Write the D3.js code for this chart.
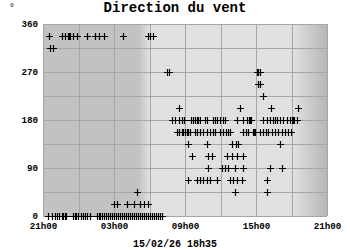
<!DOCTYPE html>
<html><head><meta charset="utf-8">
<script src="https://cdn.jsdelivr.net/npm/d3@7"></script>
<style>
html,body{margin:0;padding:0;background:#fff;}
text{font-family:"Liberation Mono","DejaVu Sans Mono",monospace;font-weight:bold;fill:#000;}
</style></head>
<body>
<svg id="c" width="350" height="250"></svg>
<script>
// ---- data ----
const title = "Direction du vent";
const unitLabel = "°";
const stampLabel = "15/02/26 18h35";
const startTime = "2026-02-14 21:00";
const endTime = "2026-02-15 21:00";
const dawnStart = "05:05", dawnEnd = "06:00";
const duskStart = "18:10", duskEnd = "20:59";
const yTicks = [0, 90, 180, 270, 360];
const yGrid = [0, 45, 90, 135, 180, 225, 270, 315, 360];
const xTickLabels = ["21h00", "03h00", "09h00", "15h00", "21h00"];
const xGridTimes = ["21:00", "00:00", "03:00", "06:00", "09:00", "12:00", "15:00", "18:00", "20:59"];

const sectors = [0, 22.5, 45, 67.5, 90, 112.5, 135, 157.5, 180, 202.5, 225, 247.5, 270, 315, 337.5];
const t0 = ["21:25","21:46","22:01","22:11","22:21","22:36","22:41","22:52","22:57",
  "23:32","23:42","23:47","23:57","00:13","00:23","00:33","00:43","00:58",
  "01:34","01:44","01:49","01:59","02:09","02:19","02:30","02:40","02:50","03:00","03:10","03:20",
  "03:30","03:41","03:51","04:01","04:11","04:21","04:31","04:41","04:52","05:02","05:12","05:22",
  "05:32","05:42","05:52","06:03","06:13","06:23","06:33","06:43","06:53","07:03"];
const t22 = ["03:00","03:17","04:04","04:43","05:12","05:34","05:54"];
const t45 = ["04:58","13:13","15:54"];
const t67 = ["09:17","09:59","10:16","10:33","10:50","11:07","11:41","12:48","13:05","13:22","13:47","15:54"];
const t90 = ["10:58","12:06","12:23","12:40","13:13","13:56","16:11","17:10"];
const t112 = ["09:34","10:58","11:15","12:31","12:57","13:22","13:56"];
const t135 = ["09:17","10:50","12:57","13:19","13:30","17:02"];
const t157 = ["08:18","08:31","08:43","08:51","09:00","09:09","09:17","09:25","09:51","10:02","10:16",
  "10:33","10:50","11:07","11:20","11:32","11:57","12:14","12:28","12:40","12:48","13:56","14:09",
  "14:21","14:45","14:50","14:55","15:20","15:37","15:51","16:02","16:20","16:36","16:53","17:10",
  "17:27","17:44","17:56"];
const t180 = ["07:56","08:09","08:31","08:45","08:56","09:29","09:42","09:51","09:59","10:07","10:16",
  "10:41","10:50","11:20","11:32","11:41","11:57","12:11","12:23","13:22","13:56","14:13","14:25",
  "14:30","14:35","15:37","15:54","16:11","16:25","16:36","16:45","17:02","17:18","17:36","17:52",
  "18:03","18:09","18:15","18:26"];
const t202 = ["08:30","13:41","16:16","18:33"];
const t225 = ["15:37"];
const t247 = ["15:08","15:18"];
const t270 = ["07:29","07:39","15:03","15:12","15:20"];
const t315 = ["21:33","21:52"];
const t337 = ["21:30","22:35","22:52","23:07","23:13","23:19","23:34","23:51","00:42","01:24",
  "01:45","02:09","03:47","05:52","06:05","06:18"];
const sectorTimes = [t0,t22,t45,t67,t90,t112,t135,t157,t180,t202,t225,t247,t270,t315,t337];

// ---- build ----
const parseFull = d3.timeParse("%Y-%m-%d %H:%M");
const t0Date = parseFull(startTime), t1Date = parseFull(endTime);
function toDate(hm) {
  const h = +hm.split(":")[0];
  const day = h >= 21 ? "2026-02-14" : "2026-02-15";
  return parseFull(day + " " + hm);
}
const points = [];
sectors.forEach((s, i) => sectorTimes[i].forEach(t => points.push({t: toDate(t), d: s})));

const svg = d3.select("#c");
const L = 43, R = 327, T = 24, B = 216;
const x = d3.scaleTime().domain([t0Date, t1Date]).range([L, R]);
const y = d3.scaleLinear().domain([0, 360]).range([B, T]);

// background shading (night/day)
const defs = svg.append("defs");
const g = defs.append("linearGradient").attr("id", "bg")
  .attr("gradientUnits", "userSpaceOnUse").attr("x1", L).attr("x2", R).attr("y1", 0).attr("y2", 0);
const dark = "#c2c2c2", light = "#e0e0e0", darkR = "#b6b6b6";
[[x(t0Date), dark], [x(toDate(dawnStart)), dark], [x(toDate(dawnEnd)), light],
 [x(toDate(duskStart)), light], [x(toDate(duskEnd)), darkR]]
  .forEach(([px, c]) => g.append("stop").attr("offset", (px - L) / (R - L)).attr("stop-color", c));
svg.append("rect").attr("x", L).attr("y", T).attr("width", R - L).attr("height", B - T).attr("fill", "url(#bg)");

// grid
const gridX = xGridTimes.map(toDate);
svg.append("g").selectAll("line").data(gridX).join("line")
  .attr("x1", d => Math.round(x(d)) + 0.5).attr("x2", d => Math.round(x(d)) + 0.5)
  .attr("y1", T).attr("y2", B).attr("stroke", "#a6a6a6").attr("stroke-width", 1);
svg.append("g").selectAll("line").data(yGrid).join("line")
  .attr("y1", d => Math.round(y(d)) + 0.5).attr("y2", d => Math.round(y(d)) + 0.5)
  .attr("x1", L).attr("x2", R).attr("stroke", "#a6a6a6").attr("stroke-width", 1);

// axes (labels only)
const yAxis = d3.axisLeft(y).tickValues(yTicks).tickSize(0).tickPadding(5);
const ya = svg.append("g").attr("transform", `translate(${L},0)`).call(yAxis);
ya.select(".domain").remove();
ya.selectAll("text").attr("font-size", 9.2).attr("dy", "0.28em").attr("font-family", null)
  .style("font-family", '"Liberation Mono",monospace').style("font-weight", "bold");

const xLabelDates = xTickLabels.map((lab, i) => i === xTickLabels.length - 1 ? t1Date : toDate(lab.replace("h", ":")));
const xAxis = d3.axisBottom(x).tickValues(xLabelDates).tickSize(0).tickPadding(6)
  .tickFormat((d, i) => xTickLabels[i]);
const xa = svg.append("g").attr("transform", `translate(0,${B})`).call(xAxis);
xa.select(".domain").remove();
xa.selectAll("text").attr("font-size", 9.2).attr("dy", "0.75em").attr("font-family", null)
  .style("font-family", '"Liberation Mono",monospace').style("font-weight", "bold");

// markers
svg.append("g").selectAll("path").data(points).join("path")
  .attr("transform", d => `translate(${Math.round(x(d.t)) + 0.5},${Math.round(y(d.d)) + 0.5})`)
  .attr("d", "M-3.5,0H3.5M0,-3.5V3.5")
  .attr("stroke", "#000").attr("stroke-width", 1.2).attr("fill", "none");

// texts
svg.append("text").attr("x", 175).attr("y", 12).attr("text-anchor", "middle")
  .attr("font-size", 14).text(title);
svg.append("text").attr("x", 9).attr("y", 11).attr("font-size", 10).style("font-weight", "normal").text(unitLabel);
svg.append("text").attr("x", 175).attr("y", 247).attr("text-anchor", "middle")
  .attr("font-size", 10).text(stampLabel);
</script>
</body></html>
